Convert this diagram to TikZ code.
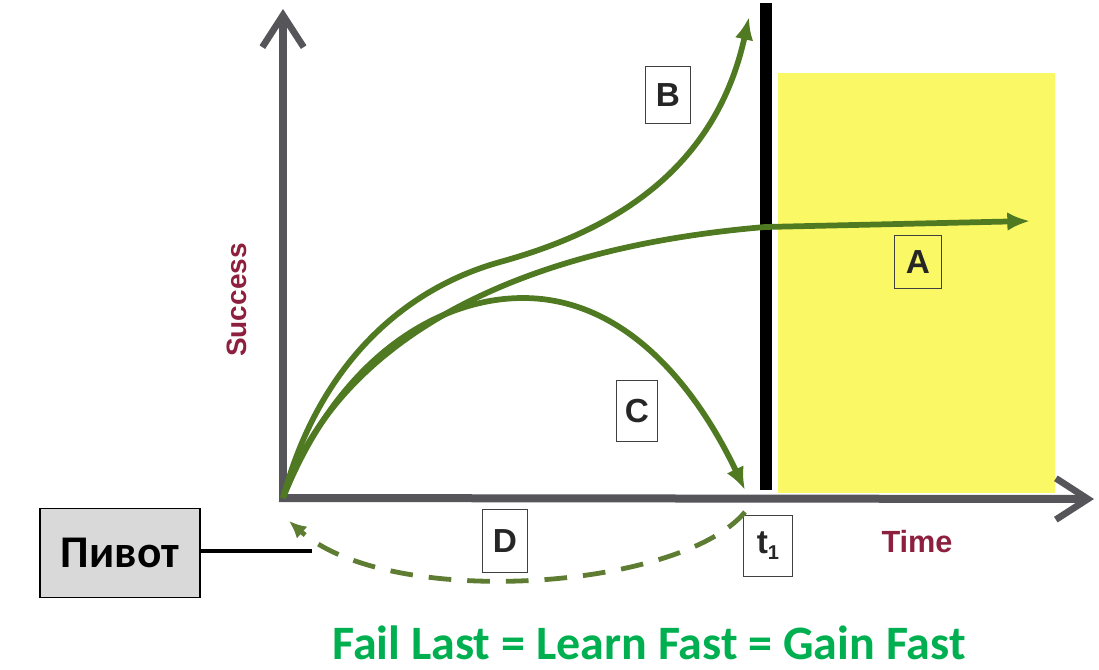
\documentclass[tikz,border=0pt]{standalone}
\usepackage{fontspec}
\setmainfont{Liberation Sans}
\newfontfamily\calib{Carlito}
\usetikzlibrary{arrows.meta}
\definecolor{axisgray}{RGB}{85,85,90}
\definecolor{curvegreen}{RGB}{80,122,34}
\definecolor{dashgreen}{RGB}{95,125,50}
\definecolor{sunyellow}{RGB}{250,248,100}
\definecolor{maroonlbl}{RGB}{140,32,62}
\definecolor{slogan}{RGB}{0,176,80}
\definecolor{pivgray}{RGB}{217,217,217}
\begin{document}
\begin{tikzpicture}[x=0.75pt,y=-0.75pt,
  axisline/.style={draw=axisgray,line width=6pt,-{Straight Barb[length=24pt,width=31pt,line width=5pt]}},
  curve/.style={draw=curvegreen,line width=4.3pt,-{Latex[length=17pt,width=14pt]}},
  lblbox/.style={draw=black!75,line width=1pt,fill=white,inner sep=0pt,font=\bfseries\fontsize{25}{25}\selectfont,text=black!85},
  axislbl/.style={text=maroonlbl,font=\bfseries\fontsize{21}{21}\selectfont}]
\useasboundingbox (0,0) rectangle (1099,669);
% yellow region
\fill[sunyellow] (778,73) rectangle (1055,493);
% coordinates
\coordinate (O) at (283,498);
\coordinate (ytip) at (283,9);
\coordinate (xtip) at (1094,499);
\coordinate (ybot) at (283,502);
\coordinate (xleft) at (279,498);
% t1 vertical line
\coordinate (ltop) at (766,3);
\coordinate (lbot) at (766,490);
\draw[black,line width=9pt] (ltop) -- (lbot);
% axes
\draw[axisline] (ybot) -- (ytip);
\draw[axisline] (xleft) -- (xtip);
% curves
\coordinate (Aend) at (1030,221);
\coordinate (Bend) at (749,17);
\coordinate (Cend) at (745,490);
\coordinate (Bmid) at (500,262);
\coordinate (Cmid) at (523,298);
\draw[curve] (O) .. controls (332,355) and (490,250) .. (765,227) -- (Aend);
\draw[curve] (O) .. controls (318,368) and (400,290) .. (Bmid) .. controls (590,237) and (712,185) .. (Bend);
\draw[curve] (O) .. controls (340,355) and (440,298) .. (Cmid) .. controls (630,298) and (700,395) .. (Cend);
% label boxes
\node[lblbox,minimum width=34pt,minimum height=43pt] (B) at (668,95) {B};
\node[lblbox,minimum width=35pt,minimum height=40pt,fill=sunyellow] (A) at (918,262) {A};
\node[lblbox,minimum width=31pt,minimum height=46pt] (C) at (637,411) {C};
\node[lblbox,minimum width=34pt,minimum height=47pt] (D) at (505,541) {D};
\node[lblbox,minimum width=37pt,minimum height=46pt] (t1) at (768,546) {t\raisebox{-0.35ex}{\fontsize{15}{15}\selectfont 1}};
% dashed pivot arrow
\coordinate (dstart) at (745,512);
\coordinate (dend) at (289,521);
\draw[draw=dashgreen,line width=3.6pt,dash pattern=on 17pt off 12pt,-{Latex[length=13pt,width=12pt]}]
  (dstart) .. controls (680,590) and (390,610) .. (dend);
% axis labels
\node[axislbl,rotate=90] (succ) at (237,300) {Success};
\node[axislbl,font=\bfseries\fontsize{23}{23}\selectfont] (time) at (917,542) {Time};
% pivot box
\node[draw=black,line width=1pt,fill=pivgray,minimum width=120pt,minimum height=67pt,font=\calib\bfseries\fontsize{34}{34}\selectfont] (piv) at (120,553) {Пивот};
\coordinate (pivend) at (312,551);
\draw[black,line width=2.4pt] (piv.east |- pivend) -- (pivend);
% slogan
\node[text=slogan,anchor=base,inner sep=0pt,text depth=0pt,font=\calib\bfseries\fontsize{36}{36}\selectfont] (slog) at (649,659) {Fail Last = Learn Fast = Gain Fast};
\end{tikzpicture}
\end{document}
